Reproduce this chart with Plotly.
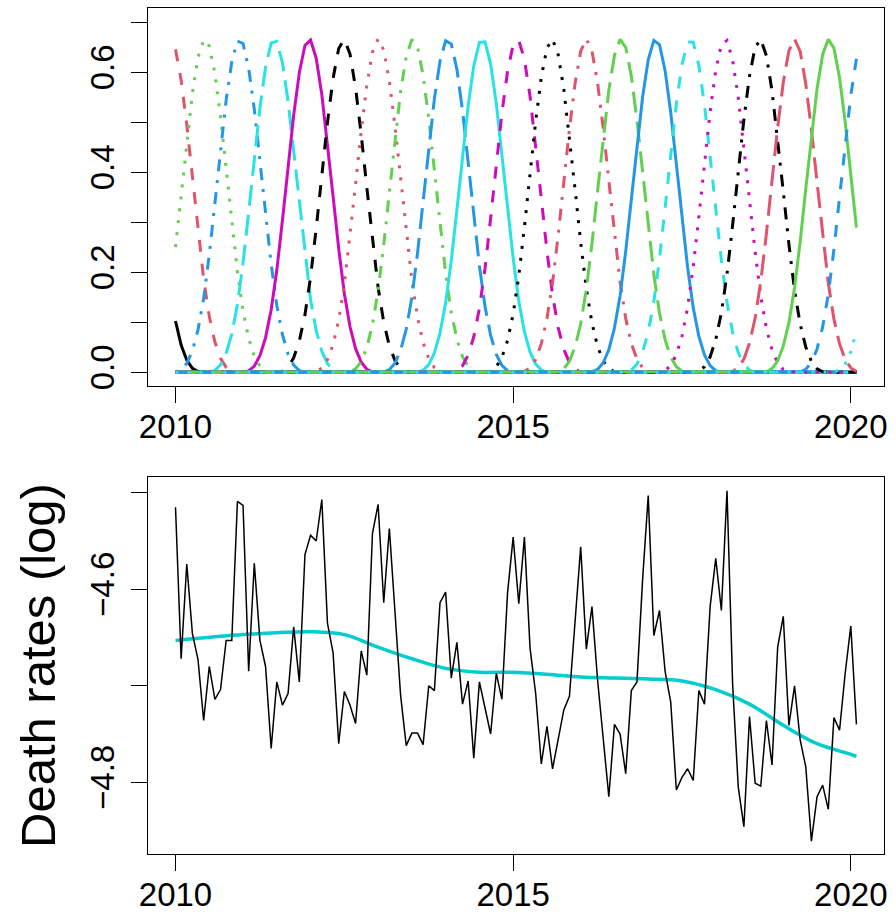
import plotly.graph_objects as go

# ---- data ----
years = [2010 + m / 12 for m in range(122)]

# peak positions of the 23 spline basis functions and knot spacing
basis_peaks = [2009.410, 2009.923, 2010.437, 2010.950, 2011.464, 2011.977, 2012.490,
               2013.004, 2013.517, 2014.031, 2014.544, 2015.057, 2015.571, 2016.084,
               2016.598, 2017.111, 2017.624, 2018.138, 2018.651, 2019.165, 2019.678,
               2020.191, 2020.705]
knot_spacing = 0.5134

death_rates = [
    -4.515, -4.672, -4.574, -4.646, -4.673, -4.736, -4.680, -4.714, -4.704, -4.653,
    -4.653, -4.509, -4.513, -4.685, -4.573, -4.653, -4.680, -4.765, -4.696, -4.720,
    -4.708, -4.639, -4.696, -4.564, -4.544, -4.550, -4.507, -4.635, -4.666, -4.760,
    -4.706, -4.720, -4.739, -4.664, -4.689, -4.542, -4.512, -4.614, -4.537, -4.624,
    -4.710, -4.762, -4.749, -4.749, -4.761, -4.700, -4.705, -4.614, -4.603, -4.692,
    -4.655, -4.719, -4.695, -4.775, -4.696, -4.723, -4.750, -4.687, -4.714, -4.604,
    -4.546, -4.615, -4.546, -4.661, -4.708, -4.781, -4.742, -4.786, -4.756, -4.725,
    -4.711, -4.632, -4.556, -4.662, -4.618, -4.694, -4.754, -4.815, -4.740, -4.750,
    -4.791, -4.705, -4.696, -4.590, -4.503, -4.648, -4.622, -4.685, -4.717, -4.808,
    -4.795, -4.786, -4.798, -4.705, -4.719, -4.618, -4.568, -4.622, -4.498, -4.699,
    -4.805, -4.846, -4.732, -4.801, -4.804, -4.736, -4.782, -4.660, -4.628, -4.741,
    -4.700, -4.756, -4.784, -4.861, -4.815, -4.803, -4.828, -4.733, -4.746, -4.687,
    -4.638, -4.740,
]

trend_x = [2010.0, 2011.0, 2011.5, 2012.0, 2012.5, 2013.0, 2013.5, 2014.0, 2014.5, 2015.0,
           2015.5, 2016.0, 2016.5, 2017.0, 2017.5, 2018.0, 2018.5, 2019.0, 2019.5, 2020.0,
           2020.083]
trend_y = [-4.653, -4.647, -4.645, -4.644, -4.647, -4.660, -4.672, -4.682, -4.686, -4.686,
           -4.688, -4.691, -4.692, -4.693, -4.695, -4.704, -4.719, -4.741, -4.760, -4.771,
           -4.773]

x_ticks = [2010, 2015, 2020]
top_ticks = [0.0, 0.1, 0.2, 0.3, 0.4, 0.5, 0.6, 0.7]
top_ticktext = ["0.0", "", "0.2", "", "0.4", "", "0.6", ""]
bot_ticks = [-4.8, -4.7, -4.6, -4.5]
bot_ticktext = ["\u22124.8", "", "\u22124.6", ""]

palette = ["#000000", "#DF536B", "#61D04F", "#2297E6", "#28E2E5", "#CD0BBC"]
dashes = ["solid", "12px,12px", "3px,9px", "3px,9px,12px,9px", "21px,9px"]


def bspline(s):
    a = abs(s)
    if a < 1:
        return (4 - 6 * a * a + 3 * a ** 3) / 6
    if a < 2:
        return (2 - a) ** 3 / 6
    return 0.0


fig = go.Figure()

for j, pk in enumerate(basis_peaks):
    vals = [bspline((x - pk) / knot_spacing) for x in years]
    fig.add_trace(go.Scatter(
        x=years, y=vals, mode="lines", xaxis="x", yaxis="y",
        line=dict(color=palette[j % 6], width=3, dash=dashes[j % 5]),
        showlegend=False, hoverinfo="skip"))

fig.add_trace(go.Scatter(
    x=trend_x, y=trend_y, mode="lines", xaxis="x2", yaxis="y2",
    line=dict(color="#00CDCD", width=3.5, shape="spline", smoothing=1.0),
    showlegend=False))
fig.add_trace(go.Scatter(
    x=years, y=death_rates, mode="lines", xaxis="x2", yaxis="y2",
    line=dict(color="black", width=1.5), showlegend=False))

W, H = 896, 916
xdom = [148.3 / W, 883.7 / W]
FAM = "Liberation Sans, Arial, sans-serif"
font = dict(family=FAM, size=33, color="black")

axis_common = dict(showgrid=False, zeroline=False, showline=True, linecolor="black",
                   linewidth=1.3, mirror=True, ticks="outside", ticklen=16, tickwidth=1.3,
                   tickcolor="black", tickfont=font, automargin=False)

fig.update_layout(
    width=W, height=H, margin=dict(l=0, r=0, t=0, b=0),
    plot_bgcolor="white", paper_bgcolor="white",
    xaxis=dict(domain=xdom, anchor="y", range=[2009.597, 2020.487], ticklabelstandoff=-5,
               tickvals=x_ticks, ticktext=[str(v) for v in x_ticks], **axis_common),
    yaxis=dict(domain=[1 - 386.3 / H, 1 - 8.3 / H], anchor="x", range=[-0.028, 0.728],
               ticklabelstandoff=4,
               tickvals=top_ticks, ticktext=top_ticktext, tickangle=-90, **axis_common),
    xaxis2=dict(domain=xdom, anchor="y2", range=[2009.597, 2020.487], ticklabelstandoff=-5,
                tickvals=x_ticks, ticktext=[str(v) for v in x_ticks], **axis_common),
    yaxis2=dict(domain=[1 - 854 / H, 1 - 477.3 / H], anchor="x2", range=[-4.8743, -4.484],
                ticklabelstandoff=4,
                tickvals=bot_ticks, ticktext=bot_ticktext, tickangle=-90, **axis_common),
    annotations=[dict(text="Death rates (log)", textangle=-90, xref="paper", yref="paper",
                      x=38 / W, y=1 - 666 / H, xanchor="center", yanchor="middle",
                      showarrow=False,
                      font=dict(family=FAM, size=49, color="black"))],
)

fig.write_html("out.html", config={"displayModeBar": False})

# remove the default page margin so the figure sits at the window's top-left corner
with open("out.html", "r", encoding="utf-8") as f:
    html = f.read()
html = html.replace("<head>", "<head><style>html,body{margin:0;padding:0;overflow:hidden;}</style>", 1)
with open("out.html", "w", encoding="utf-8") as f:
    f.write(html)
